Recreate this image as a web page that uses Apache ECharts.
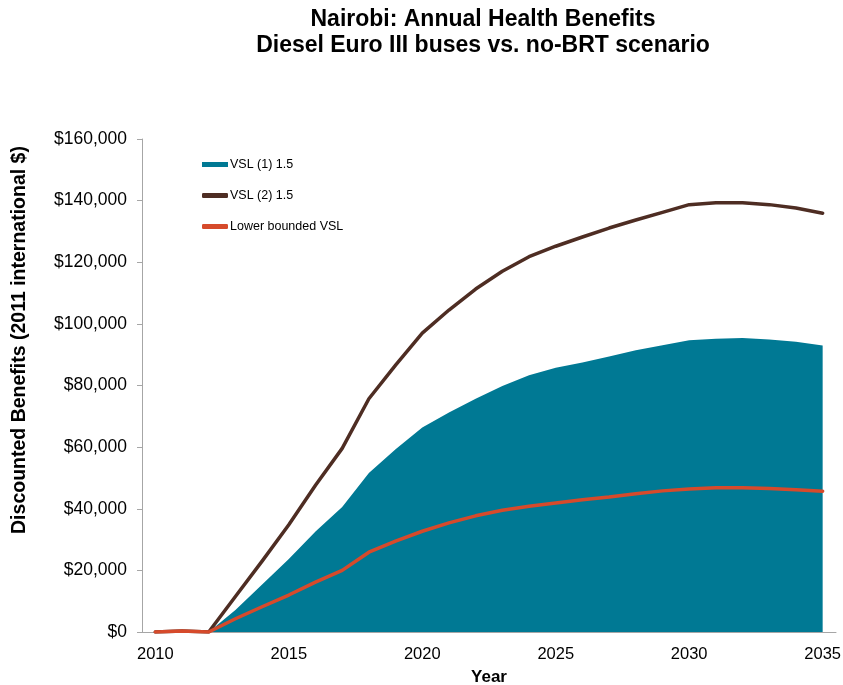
<!DOCTYPE html>
<html>
<head>
<meta charset="utf-8">
<title>Nairobi: Annual Health Benefits</title>
<script src="https://cdn.jsdelivr.net/npm/echarts@6/dist/echarts.min.js"></script>
<style>
  html, body { margin: 0; padding: 0; background: #ffffff; }
  #chart { width: 843px; height: 685px; }
</style>
</head>
<body>
<div id="chart"></div>
<script>
// Years on the horizontal axis
const years = ['2010','2011','2012','2013','2014','2015','2016','2017','2018','2019',
  '2020','2021','2022','2023','2024','2025','2026','2027','2028','2029',
  '2030','2031','2032','2033','2034','2035'];

// Discounted annual benefits (2011 international $)
const vsl1 = [0, 0, 0, 7100, 15400, 23700, 32600, 40600, 51600, 59300,
  66400, 71200, 75700, 79800, 83300, 85800, 87500, 89400, 91400, 93100,
  94700, 95200, 95400, 94900, 94200, 93000];
const vsl2 = [0, 300, 0, 11500, 23000, 34800, 47600, 59600, 75700, 86600,
  97000, 104500, 111300, 117100, 121800, 125200, 128200, 131100, 133700, 136200,
  138700, 139300, 139300, 138700, 137600, 135900];
const lowerVsl = [0, 300, 0, 4300, 8200, 12000, 16200, 20000, 25900, 29500,
  32700, 35400, 37700, 39500, 40800, 41900, 42900, 43800, 44900, 45800,
  46400, 46800, 46800, 46600, 46200, 45700];

const seriesNames = ['VSL (1) 1.5', 'VSL (2) 1.5', 'Lower bounded VSL'];
const colors = ['#007994', '#4E2D23', '#D64A2B'];

const chart = echarts.init(document.getElementById('chart'), null, { renderer: 'canvas' });

const fmtMoney = v => '$' + v.toLocaleString('en-US');

chart.setOption({
  animation: false,
  textStyle: { fontFamily: '"Liberation Sans", Arial, sans-serif' },
  grid: { left: 142, right: 7, top: 139, bottom: 53, containLabel: false, outerBoundsMode: 'none' },
  legend: {
    orient: 'vertical',
    left: 197,
    top: 153,
    itemWidth: 26,
    itemHeight: 5,
    itemGap: 18,
    textStyle: { fontSize: 12.5, color: '#000000', padding: [0, 0, 0, -3] },
    data: [
      { name: seriesNames[0], icon: 'rect' },
      { name: seriesNames[1], icon: 'roundRect' },
      { name: seriesNames[2], icon: 'roundRect' }
    ]
  },
  graphic: [
    {
      type: 'text', x: 483, y: 7,
      style: {
        text: 'Nairobi: Annual Health Benefits\nDiesel Euro III buses vs. no-BRT scenario',
        font: 'bold 23px "Liberation Sans", Arial, sans-serif',
        fill: '#000000', textAlign: 'center', lineHeight: 26
      }
    },
    {
      type: 'text', x: 20, y: 340, rotation: Math.PI / 2,
      style: {
        text: 'Discounted Benefits (2011 international $)',
        font: 'bold 19.5px "Liberation Sans", Arial, sans-serif',
        fill: '#000000', textAlign: 'center', textVerticalAlign: 'middle'
      }
    }
  ],
  xAxis: {
    type: 'category',
    data: years,
    boundaryGap: true,
    name: 'Year',
    nameLocation: 'middle',
    nameGap: 37,
    nameTextStyle: { fontSize: 17, fontWeight: 'bold', color: '#000000' },
    axisLine: { lineStyle: { color: '#A6A6A6', width: 1 } },
    axisTick: { interval: 0, length: 5, lineStyle: { color: '#A6A6A6' } },
    axisLabel: { interval: 4, fontSize: 16.5, color: '#000000', margin: 14 },
    splitLine: { show: false }
  },
  yAxis: {
    type: 'value',
    min: 0, max: 160000, interval: 20000,
    axisLine: { show: true, lineStyle: { color: '#A6A6A6', width: 1 } },
    axisTick: { show: true, length: 5, lineStyle: { color: '#A6A6A6' } },
    axisLabel: { fontSize: 17.5, color: '#000000', margin: 15, formatter: fmtMoney },
    splitLine: { show: false }
  },
  series: [
    {
      name: seriesNames[0], type: 'line', data: vsl1,
      symbol: 'none', smooth: false,
      itemStyle: { color: colors[0] },
      lineStyle: { width: 0, color: colors[0] },
      areaStyle: { color: colors[0], opacity: 1 },
      z: 2
    },
    {
      name: seriesNames[1], type: 'line', data: vsl2,
      symbol: 'none', smooth: false,
      itemStyle: { color: colors[1] },
      lineStyle: { width: 3.5, color: colors[1], cap: 'round', join: 'round' },
      z: 3
    },
    {
      name: seriesNames[2], type: 'line', data: lowerVsl,
      symbol: 'none', smooth: false,
      itemStyle: { color: colors[2] },
      lineStyle: { width: 3.5, color: colors[2], cap: 'round', join: 'round' },
      z: 4
    }
  ]
});
</script>
</body>
</html>
